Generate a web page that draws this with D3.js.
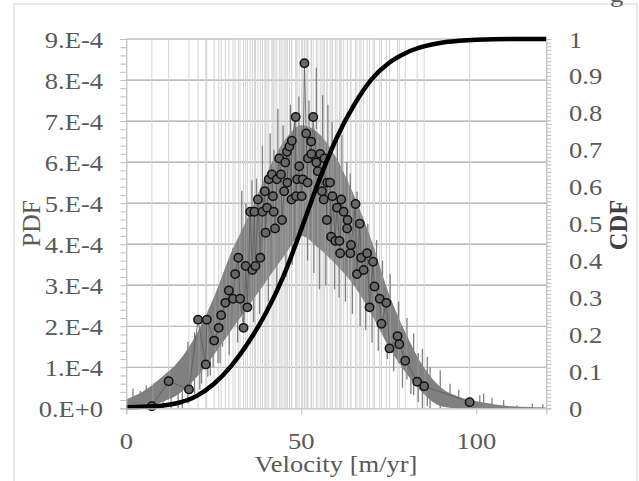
<!DOCTYPE html>
<html>
<head>
<meta charset="utf-8">
<script src="https://cdn.jsdelivr.net/npm/d3@7"></script>
<style>
  body { margin: 0; background: #fff; }
  svg { display: block; font-family: "Liberation Serif", "Times New Roman", serif; }
</style>
</head>
<body>
<svg id="chart" width="639" height="481"></svg>
<script>
// binned PDF points (x in m/yr, value in 1e-4)
const pdfX = [7.3, 12.1, 17.9, 20.5, 22.7, 23.0, 25.1, 26.4, 27.1, 28.3, 29.3, 30.5, 31.1, 32.0, 32.5, 33.5, 34.1, 34.6,
  35.4, 36.0, 36.6, 36.9, 37.6, 38.3, 38.9, 39.6, 39.8, 40.2, 40.7, 41.6, 41.9, 42.1, 42.5, 43.0, 43.7, 44.2, 44.5,
  45.1, 45.4, 45.9, 46.0, 46.6, 47.2, 47.3, 48.4, 48.5, 48.8, 49.4, 50.1, 50.4, 50.9, 51.4, 51.8, 51.9, 52.8, 52.9,
  53.4, 54.3, 54.7, 55.4, 55.9, 56.4, 56.6, 57.3, 57.4, 58.2, 58.5, 58.9, 59.7, 60.2, 60.9, 61.1, 61.4, 62.1, 63.1,
  63.2, 64.0, 64.2, 65.5, 65.9, 66.7, 67.1, 67.8, 68.8, 69.5, 70.5, 70.9, 72.4, 72.9, 74.3, 75.2, 77.5, 78.0, 79.7,
  83.1, 85.1, 98.1];
const pdfY = [0.05, 0.66, 0.46, 2.16, 1.07, 2.16, 1.65, 1.96, 2.27, 2.57, 2.87, 2.67, 3.27, 3.67, 2.67, 1.96, 3.47, 2.46,
  4.79, 3.37, 4.79, 3.47, 5.09, 3.67, 4.79, 5.29, 4.28, 4.89, 5.58, 5.70, 5.17, 4.79, 4.38, 5.58, 6.09, 5.70, 4.59,
  5.29, 5.99, 6.25, 5.50, 6.38, 5.09, 6.52, 7.10, 5.17, 5.58, 5.90, 5.17, 5.58, 8.41, 6.70, 5.50, 6.09, 6.50, 6.20,
  7.10, 5.99, 5.78, 6.20, 5.29, 5.09, 6.09, 4.59, 5.50, 5.50, 4.18, 5.17, 4.08, 4.89, 4.08, 3.78, 5.09, 4.79, 4.38,
  4.59, 3.78, 3.98, 4.98, 3.27, 4.50, 3.67, 3.37, 3.78, 2.46, 3.57, 2.97, 2.67, 2.06, 2.57, 1.46, 1.76, 1.56, 1.16,
  0.65, 0.54, 0.15];

// fine-resolution PDF, read as an envelope (value in 1e-4)
const bandX  = [0, 5, 10, 15, 20, 25, 30, 35, 40, 45, 50, 55, 60, 65, 70, 75, 80, 85, 90, 95, 100, 105, 110, 115, 120];
const bandLo = [0, 0, 0.15, 0.35, 0.75, 1.3, 1.9, 2.5, 3.1, 3.7, 4.2, 3.9, 3.5, 3.0, 2.3, 1.5, 0.85, 0.35, 0.05, 0, 0, 0, 0, 0, 0];
const bandHi = [0.22, 0.42, 0.75, 1.15, 1.8, 2.7, 3.8, 4.7, 5.7, 6.5, 6.9, 6.7, 6.1, 5.2, 4.1, 2.8, 1.8, 1.0, 0.5, 0.28, 0.17, 0.1, 0.05, 0.03, 0.02];
// spikes above the envelope
const spikeX   = [1.9, 4.0, 5.7, 8.0, 10.5, 12.8, 14.8, 16.0, 17.6, 19.5, 21.5, 23.3, 24.8, 26.2, 27.5, 28.6, 30.5, 33.0,
  34.2, 35.9, 37.2, 38.9, 41.1, 42.2, 43.3, 44.8, 46.9, 48.0, 49.3, 52.2, 54.3, 56.1, 57.6, 58.8, 60.3, 61.6, 63.0,
  64.0, 65.9, 66.9, 69.0, 71.5, 73.2, 75.4, 77.8, 80.2, 82.1, 84.6, 86.8, 89.7, 92.5, 95.0, 101.0, 102.1, 104.5,
  107.8, 111.6, 116.0, 119.0];
const spikeTop = [0.48, 0.42, 0.56, 0.62, 0.76, 0.92, 1.13, 1.25, 1.62, 1.85, 2.1, 2.27, 2.5, 2.6, 3.0, 3.24, 3.9, 5.3,
  5.0, 5.56, 5.6, 6.4, 6.7, 6.3, 7.3, 6.9, 7.4, 7.2, 7.6, 7.5, 8.3, 7.63, 7.4, 6.98, 6.6, 6.66, 6.0, 5.72, 5.28,
  4.59, 4.5, 4.1, 3.6, 3.28, 2.6, 2.2, 1.82, 1.45, 1.0, 0.93, 0.6, 0.45, 0.32, 0.36, 0.25, 0.2, 0.07, 0.12, 0.1];
// dips below the envelope
const dipX   = [18.5, 21.0, 24.0, 26.8, 29.4, 31.8, 33.6, 36.4, 38.1, 40.6, 43.0, 45.6, 47.4, 51.8, 53.6, 55.2, 57.0,
  59.5, 60.8, 62.6, 64.6, 66.8, 68.4, 70.2, 72.0, 74.6, 76.4, 78.9, 81.3, 83.4, 86.0];
const dipBot = [0.35, 0.45, 0.8, 1.1, 1.3, 1.6, 1.9, 2.1, 2.3, 2.6, 2.9, 3.2, 3.5, 3.6, 3.3, 2.9, 3.0, 2.9, 2.7, 2.6,
  2.3, 2.0, 1.9, 1.6, 1.4, 1.2, 0.9, 0.5, 0.35, 0.15, 0.05];

// CDF (right axis)
const cdfX = [0, 5, 10, 15, 20, 25, 30, 35, 40, 45, 50, 55, 60, 65, 70, 75, 80, 85, 90, 95, 100, 110, 120];
const cdfY = [0.003, 0.004, 0.007, 0.015, 0.033, 0.066, 0.115, 0.18, 0.26, 0.36, 0.485, 0.615, 0.73, 0.82, 0.89,
  0.935, 0.963, 0.98, 0.99, 0.995, 0.998, 1.0, 1.0];

const xTicks = [0, 50, 100];
const leftTickLabels = ["0.E+0", "1.E-4", "2.E-4", "3.E-4", "4.E-4", "5.E-4", "6.E-4", "7.E-4", "8.E-4", "9.E-4"];
const rightTickLabels = ["0", "0.1", "0.2", "0.3", "0.4", "0.5", "0.6", "0.7", "0.8", "0.9", "1"];

const svg = d3.select("#chart");
const txt = "#595959";
const stretch = 1.13;
const gray = "#808080";

const x = d3.scaleLinear().domain([0, 120]).range([126.3, 546.3]);
const yL = d3.scaleLinear().domain([0, 9e-4]).range([408.3, 39]);
const yR = d3.scaleLinear().domain([0, 1]).range([408.3, 39]);

// outer chart frame
svg.append("rect").attr("x", 14).attr("y", 4).attr("width", 623).attr("height", 500)
  .attr("fill", "none").attr("stroke", "#d9d9d9").attr("stroke-width", 1.2);

// horizontal gridlines
svg.append("g").selectAll("line").data(d3.range(1, 10)).join("line")
  .attr("x1", x(0)).attr("x2", x(120))
  .attr("y1", d => yL(d * 1e-4)).attr("y2", d => yL(d * 1e-4))
  .attr("stroke", "#a6a6a6").attr("stroke-width", 1.2);

// light vertical lines at each bin
svg.append("g").selectAll("line").data(pdfX).join("line")
  .attr("x1", d => x(d)).attr("x2", d => x(d))
  .attr("y1", yL(0)).attr("y2", yL(9e-4))
  .attr("stroke", "#d4d4d4").attr("stroke-width", 1);

// fine-resolution PDF band
const band = bandX.map((d, i) => ({ x: d, lo: bandLo[i] * 1e-4, hi: bandHi[i] * 1e-4 }));
const bandArea = d3.area().x(d => x(d.x)).y0(d => yL(d.lo)).y1(d => yL(d.hi)).curve(d3.curveMonotoneX);
svg.append("clipPath").attr("id", "bandClip").append("path").datum(band).attr("d", bandArea);
svg.append("path").datum(band).attr("d", bandArea).attr("fill", gray);

svg.append("g").selectAll("line").data(spikeX).join("line")
  .attr("x1", d => x(d)).attr("x2", d => x(d))
  .attr("y1", (d, i) => yL(spikeTop[i] * 1e-4))
  .attr("y2", (d, i) => yL(Math.max(0, spikeTop[i] - 1.5) * 1e-4))
  .attr("stroke", gray).attr("stroke-width", 1.3);
svg.append("g").selectAll("line").data(dipX).join("line")
  .attr("x1", d => x(d)).attr("x2", d => x(d))
  .attr("y1", (d, i) => yL(dipBot[i] * 1e-4))
  .attr("y2", (d, i) => yL((dipBot[i] + 1.2) * 1e-4))
  .attr("stroke", gray).attr("stroke-width", 1.3);

// light streaks showing through the band
svg.append("g").attr("clip-path", "url(#bandClip)")
  .selectAll("line").data(pdfX).join("line")
  .attr("x1", d => x(d) + 1).attr("x2", d => x(d) + 1)
  .attr("y1", yL(0)).attr("y2", yL(9e-4))
  .attr("stroke", "#d0d0d0").attr("stroke-width", 0.8).attr("opacity", 0.35);

// binned PDF line + markers
const pts = pdfX.map((d, i) => ({ x: d, y: pdfY[i] * 1e-4 }));
svg.append("path").datum(pts)
  .attr("d", d3.line().x(d => x(d.x)).y(d => yL(d.y)))
  .attr("fill", "none").attr("stroke", "#595959").attr("stroke-width", 0.8);
svg.append("g").selectAll("circle").data(pts).join("circle")
  .attr("cx", d => x(d.x)).attr("cy", d => yL(d.y)).attr("r", 4.2)
  .attr("fill", "#676767").attr("stroke", "#111").attr("stroke-width", 1.5);

// CDF
const cdf = cdfX.map((d, i) => ({ x: d, y: cdfY[i] }));
svg.append("path").datum(cdf)
  .attr("d", d3.line().x(d => x(d.x)).y(d => yR(d.y)).curve(d3.curveMonotoneX))
  .attr("fill", "none").attr("stroke", "#000").attr("stroke-width", 4.5);

// axes
const axisCol = "#bfbfbf";
const gL = svg.append("g").attr("transform", `translate(${x(0)},0)`)
  .call(d3.axisLeft(yL).tickValues(d3.range(0, 46).map(i => i * 0.2e-4)).tickSize(6).tickFormat(""));
const gR = svg.append("g").attr("transform", `translate(${x(120)},0)`)
  .call(d3.axisRight(yR).tickValues(d3.range(0, 101).map(i => i / 100)).tickSize(5).tickFormat(""));
const gB = svg.append("g").attr("transform", `translate(0,${yL(0)})`)
  .call(d3.axisBottom(x).tickValues(xTicks).tickSize(6).tickFormat(""));
[gL, gR, gB].forEach(g => {
  g.select(".domain").attr("stroke", axisCol).attr("stroke-width", 1.2);
  g.selectAll(".tick line").attr("stroke", axisCol).attr("stroke-width", 1);
});

// tick labels
const label = (g, tx, ty, s, anchor) => g.append("text")
  .attr("transform", `translate(${tx},${ty}) scale(${stretch},1)`)
  .attr("text-anchor", anchor).attr("fill", txt).attr("font-size", 23.5).text(s);

const labels = svg.append("g");
leftTickLabels.forEach((s, i) => label(labels, 103, yL(i * 1e-4) + 8.5, s, "end"));
rightTickLabels.forEach((s, i) => label(labels, 569, yR(i / 10) + 8.5, s, "start"));
xTicks.forEach(v => label(labels, x(v), 449, String(v), "middle"));
label(labels, 336, 472, "Velocity [m/yr]", "middle");

svg.append("text").attr("transform", "translate(40,223.5) rotate(-90)")
  .attr("text-anchor", "middle").attr("fill", txt).attr("font-size", 25.5).text("PDF");
svg.append("text").attr("transform", "translate(627,225) rotate(-90)")
  .attr("text-anchor", "middle").attr("fill", "#404040").attr("font-size", 24.5)
  .attr("font-weight", "bold").text("CDF");

// cut-off title fragment at top right
label(svg, 610, 2, "g", "start");
</script>
</body>
</html>
